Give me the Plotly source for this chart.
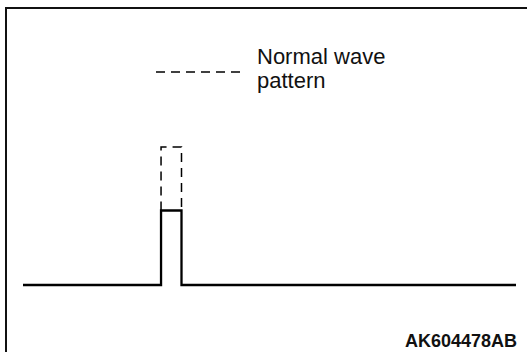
import plotly.graph_objects as go

# Signal trace: time (arbitrary units) vs. signal level
time_measured = [0.0, 28.0, 28.0, 32.15, 32.15, 100.0]
level_measured = [0.0, 0.0, 0.54, 0.54, 0.0, 0.0]

# Normal pulse outline (upper part, drawn dashed)
time_normal = [28.0, 28.0, 32.15, 32.15]
level_normal = [0.54, 1.0, 1.0, 0.54]

legend_lines = ["Normal wave", "pattern"]
figure_code = "AK604478AB"

W, H = 527, 352
FONT = "Liberation Sans, Arial, Helvetica, sans-serif"

fig = go.Figure()

fig.add_trace(go.Scatter(
    x=time_normal, y=level_normal, mode="lines",
    line=dict(color="black", width=1.5, dash="9px,6px"),
    hoverinfo="skip", showlegend=False,
))
fig.add_trace(go.Scatter(
    x=time_measured, y=level_measured, mode="lines",
    line=dict(color="black", width=2.3),
    hoverinfo="skip", showlegend=False,
))

# Frame around the diagram (open to the right and bottom)
fig.add_shape(type="rect", xref="paper", yref="paper",
              x0=6 / W, x1=1.05, y0=-0.05, y1=1 - 8 / H,
              line=dict(color="#111111", width=2), fillcolor="rgba(0,0,0,0)")

# Legend swatch for the dashed line
fig.add_shape(type="line", xref="paper", yref="paper",
              x0=156 / W, x1=240 / W, y0=1 - 72 / H, y1=1 - 72 / H,
              line=dict(color="black", width=1.5, dash="9px,6px"))

# Legend text, one annotation per line for tight line spacing
LINE_STEP = 24
for i, line_text in enumerate(legend_lines):
    fig.add_annotation(text=line_text, xref="paper", yref="paper",
                       x=255 / W, y=1 - (42 + LINE_STEP * i) / H,
                       xanchor="left", yanchor="top",
                       align="left", showarrow=False,
                       font=dict(family=FONT, size=22, color="#111111"))

fig.add_annotation(text="<b>" + figure_code + "</b>", xref="paper", yref="paper",
                   x=519 / W, y=1 - 353 / H, xanchor="right", yanchor="bottom",
                   showarrow=False,
                   font=dict(family=FONT, size=18, color="#111111"))

px_per_t = 4.93
px_per_level = 138.0
fig.update_layout(
    width=W, height=H,
    margin=dict(l=0, r=0, t=0, b=0),
    paper_bgcolor="white", plot_bgcolor="white",
    xaxis=dict(range=[-23 / px_per_t, (W - 23) / px_per_t], visible=False, fixedrange=True),
    yaxis=dict(range=[(285 - H) / px_per_level, 285 / px_per_level], visible=False, fixedrange=True),
)

fig.write_html("out.html")
